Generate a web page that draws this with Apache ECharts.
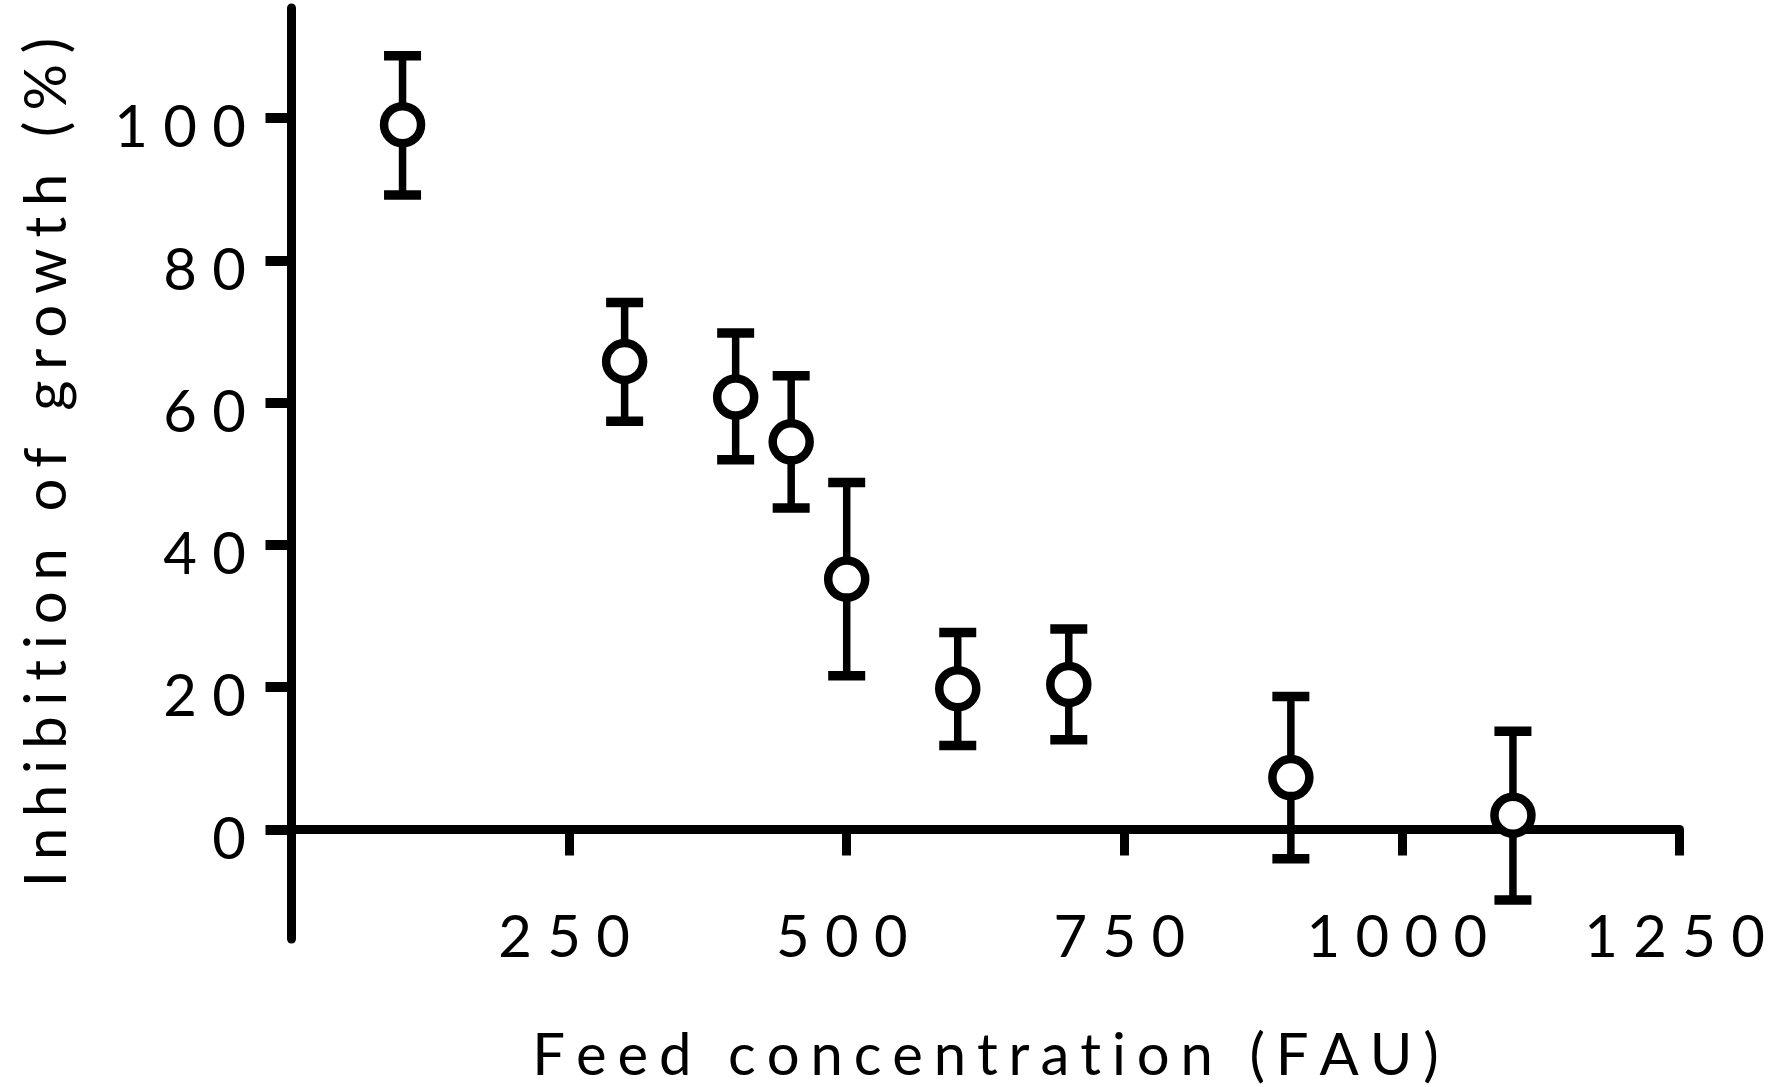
<!DOCTYPE html>
<html>
<head>
<meta charset="utf-8">
<script src="https://cdn.jsdelivr.net/npm/echarts@6/dist/echarts.min.js"></script>
<style>
  html, body { margin: 0; padding: 0; background: #fff; }
  #chart { width: 1782px; height: 1087px; }
</style>
</head>
<body>
<div id="chart"></div>
<script>
// ---- data ----
const feedFAU        = [100, 300, 400, 450, 500, 600, 700, 900, 1100];
const inhibitionMean = [99.1, 65.8, 60.8, 54.5, 35.2, 19.8, 20.4, 7.3, 2.0];
const errUpper       = [108.8, 74.1, 69.8, 63.8, 48.8, 27.7, 28.2, 18.7, 13.8];
const errLower       = [89.2, 57.4, 52.0, 45.2, 21.6, 11.8, 12.6, -4.1, -9.9];
const xTickValues    = [250, 500, 750, 1000, 1250];
const yTickValues    = [0, 20, 40, 60, 80, 100];
const xAxisTitle = 'Feed concentration (FAU)';
const yAxisTitle = 'Inhibition of growth (%)';

const FONT = 'Lato';
const FS = 58;
const spaced = s => s.split('').join('\u2009\u200A');
const digitRich = v => String(v).split('').map(c => '{d|' + c + '}').join('');

// layout of the plotting box (pixels)
const GRID = { left: 291.5, right: 102.5, top: 8, bottom: 148 };
const Y_MIN = -15.4, Y_MAX = 115.5;
const plotH = 1087 - GRID.top - GRID.bottom;
// distance from grid bottom up to the y = 0 line, so the x axis sits on zero
const zeroOffset = plotH * (0 - Y_MIN) / (Y_MAX - Y_MIN);

const chart = echarts.init(document.getElementById('chart'), null, { renderer: 'canvas' });

const scatterData = feedFAU.map((x, i) => [x, inhibitionMean[i]]);
const errData = feedFAU.map((x, i) => [x, errLower[i], errUpper[i]]);

const option = {
  backgroundColor: '#fff',
  animation: false,
  grid: Object.assign({ containLabel: false, outerBoundsMode: 'none' }, GRID),
  xAxis: {
    type: 'value', min: 0, max: 1250,
    offset: -zeroOffset,
    name: spaced(xAxisTitle), nameLocation: 'middle', nameGap: 198,
    nameTextStyle: { fontFamily: FONT, fontSize: FS, color: '#000' },
    axisLine: { onZero: false, lineStyle: { color: '#000', width: 9 } },
    axisTick: { show: true, inside: false, length: 26, lineStyle: { color: '#000', width: 9 }, customValues: xTickValues },
    axisLabel: {
      customValues: xTickValues, margin: 80, color: '#000',
      fontFamily: FONT, fontSize: FS, padding: [0, 10, 0, 0],
      formatter: v => digitRich(v),
      rich: { d: { fontFamily: FONT, fontSize: FS, color: '#000', width: 49, align: 'center' } }
    },
    splitLine: { show: false }
  },
  yAxis: {
    type: 'value', min: Y_MIN, max: Y_MAX,
    name: spaced(yAxisTitle), nameLocation: 'middle', nameGap: 215,
    nameTextStyle: { fontFamily: FONT, fontSize: FS, color: '#000', padding: [0, 0, 0, 22] },
    axisLine: { onZero: false, lineStyle: { color: '#000', width: 9 } },
    axisTick: { show: true, inside: false, length: 26, lineStyle: { color: '#000', width: 10 }, customValues: yTickValues },
    axisLabel: {
      customValues: yTickValues, margin: 38, color: '#000',
      fontFamily: FONT, fontSize: FS, padding: [21, 0, 0, 0],
      formatter: v => digitRich(v),
      rich: { d: { fontFamily: FONT, fontSize: FS, color: '#000', width: 49, align: 'center' } }
    },
    splitLine: { show: false }
  },
  series: [
    {
      type: 'custom',
      name: 'error',
      data: errData,
      z: 3,
      renderItem: function (params, api) {
        const x = api.value(0);
        const lo = api.coord([x, api.value(1)]);
        const hi = api.coord([x, api.value(2)]);
        const half = 18.5;
        return {
          type: 'group',
          children: [
            { type: 'line', shape: { x1: lo[0], y1: lo[1], x2: hi[0], y2: hi[1] }, style: { stroke: '#000', lineWidth: 7.5 } },
            { type: 'line', shape: { x1: hi[0] - half, y1: hi[1], x2: hi[0] + half, y2: hi[1] }, style: { stroke: '#000', lineWidth: 9.5 } },
            { type: 'line', shape: { x1: lo[0] - half, y1: lo[1], x2: lo[0] + half, y2: lo[1] }, style: { stroke: '#000', lineWidth: 9.5 } }
          ]
        };
      }
    },
    {
      type: 'scatter',
      name: 'mean',
      data: scatterData,
      z: 4,
      symbol: 'circle',
      symbolSize: 37,
      itemStyle: { color: '#fff', borderColor: '#000', borderWidth: 8.5, opacity: 1 }
    }
  ]
};
chart.setOption(option);
</script>
</body>
</html>
